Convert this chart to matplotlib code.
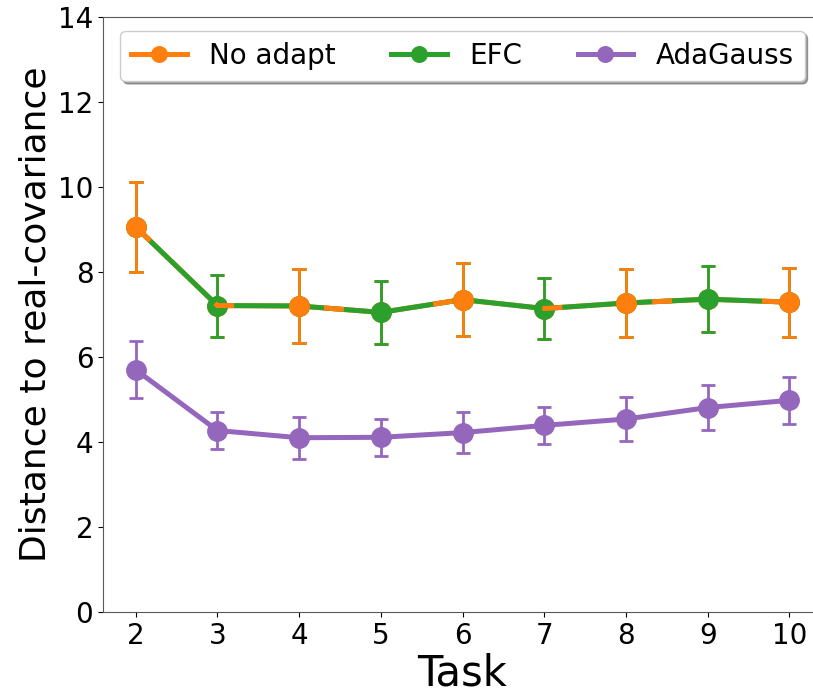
import numpy as np
import matplotlib
matplotlib.use('Agg')
import matplotlib.pyplot as plt

tasks = [2, 3, 4, 5, 6, 7, 8, 9, 10]

# No adapt and EFC share the same means (lines overlap)
no_adapt_mean = [9.06, 7.21, 7.20, 7.05, 7.35, 7.14, 7.27, 7.36, 7.29]
no_adapt_err = [1.05, 0.73, 0.87, 0.74, 0.85, 0.72, 0.80, 0.77, 0.81]
efc_mean = [9.06, 7.21, 7.20, 7.05, 7.35, 7.14, 7.27, 7.36, 7.29]
efc_err = [1.05, 0.73, 0.87, 0.74, 0.85, 0.72, 0.80, 0.77, 0.81]
adagauss_mean = [5.70, 4.27, 4.10, 4.11, 4.22, 4.39, 4.54, 4.81, 4.98]
adagauss_err = [0.67, 0.44, 0.49, 0.44, 0.49, 0.44, 0.51, 0.52, 0.55]

c_orange = '#ff7f0e'
c_green = '#2ca02c'
c_purple = '#9467bd'

fig = plt.figure(figsize=(8.13, 6.94), dpi=100)
ax = fig.add_axes([0.1267, 0.1182, 0.8844, 0.8573])

lw = 3.6
ms = 14
eb = dict(fmt='none', elinewidth=2, capsize=5, capthick=2)

# orange underneath, green on top, orange dashes showing through
ax.errorbar(tasks, no_adapt_mean, yerr=no_adapt_err, ecolor=c_orange, zorder=1, **eb)
ax.plot(tasks, no_adapt_mean, color=c_orange, lw=lw, marker='o', ms=ms, zorder=1, label='No adapt')
ax.errorbar(tasks, efc_mean, yerr=efc_err, ecolor=c_green, zorder=2, **eb)
ax.plot(tasks, efc_mean, color=c_green, lw=lw, marker='o', ms=ms, zorder=2, label='EFC')
ax.plot(tasks, no_adapt_mean, color=c_orange, lw=lw, ls=(0, (4, 18)), zorder=3)

# orange is on top at the even tasks
ev = slice(0, None, 2)
ax.errorbar(tasks[ev], no_adapt_mean[ev], yerr=no_adapt_err[ev], ecolor=c_orange, zorder=4, **eb)
ax.plot(tasks[ev], no_adapt_mean[ev], color=c_orange, ls='none', marker='o', ms=ms, zorder=4)

ax.errorbar(tasks, adagauss_mean, yerr=adagauss_err, ecolor=c_purple, zorder=2, **eb)
ax.plot(tasks, adagauss_mean, color=c_purple, lw=lw, marker='o', ms=ms, zorder=2, label='AdaGauss')

ax.set_ylim(0, 14)
ax.set_xticks(tasks)
ax.set_yticks(range(0, 15, 2))
ax.tick_params(labelsize=20)
ax.set_xlabel('Task', fontsize=30, labelpad=2)
ax.set_ylabel('Distance to real-covariance', fontsize=26)
for s in ax.spines.values():
    s.set_color('0.35')

ax.legend(loc='upper center', ncol=3, fontsize=20, shadow=True, markerscale=0.8)

fig.savefig('out.png', dpi=100)
